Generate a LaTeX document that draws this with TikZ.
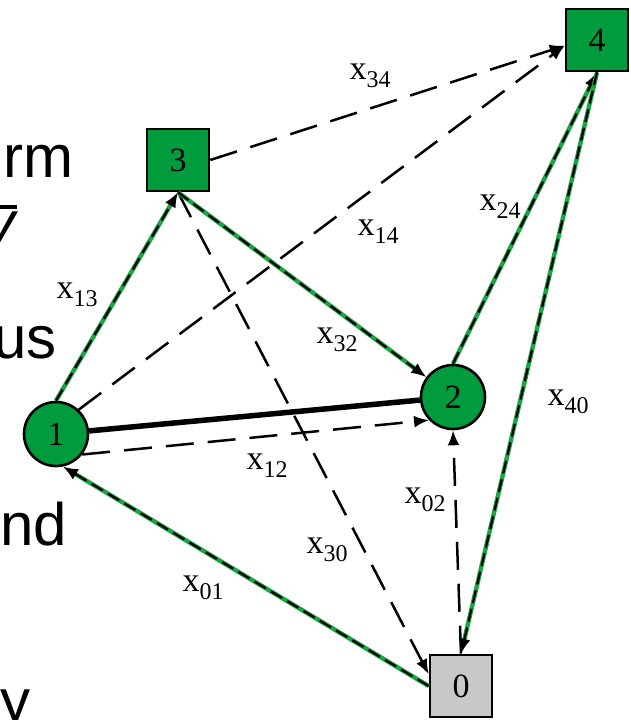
\documentclass[tikz,border=0pt]{standalone}
\usepackage{fontspec}
\setmainfont{Liberation Serif}
\newfontfamily\sansf{Liberation Sans}
\usetikzlibrary{arrows.meta}
\definecolor{ngreen}{RGB}{0,155,60}
\definecolor{egreen}{RGB}{25,165,65}
\definecolor{ngrey}{RGB}{200,200,200}
\newcommand{\elab}[1]{{\fontsize{34}{34}\selectfont x\raisebox{-8pt}{\fontsize{24}{24}\selectfont #1}}}
\begin{document}
\begin{tikzpicture}[x=1pt,y=-1pt,
  sq/.style={draw=black, line width=2.6pt, minimum size=62pt, inner sep=0pt, font=\fontsize{34}{34}\selectfont},
  ci/.style={circle, draw=black, line width=2.6pt, minimum size=64pt, inner sep=0pt, fill=ngreen, font=\fontsize{34}{34}\selectfont},
  tip/.style={-{Latex[length=15pt,width=12pt]}},
  dedge/.style={draw=black, line width=2.5pt, dash pattern=on 28pt off 14pt, tip},
  gedge/.style={draw=black, line width=2.2pt, dash pattern=on 13pt off 6pt, tip,
    preaction={draw=egreen, line width=4.4pt, solid, -, shorten >=11pt}},
  thickedge/.style={draw=black, line width=5.5pt},
  elabel/.style={inner sep=0pt, anchor=center},
  txt/.style={inner sep=0pt, font=\sansf\fontsize{60}{60}\selectfont}
]
\useasboundingbox (0,0) rectangle (631,720);
\clip (0,0) rectangle (631,720);

% text fragments at left edge
\node[txt, anchor=base east] (t1) at (74,177) {rm};
\node[txt, anchor=base east] (t2) at (16,243) {\itshape y};
\draw[line width=4pt] (-20,207) -- (17,207);
\node[txt, anchor=base east] (t3) at (57,358) {us};
\node[txt, anchor=base east] (t4) at (67,545) {nd};
\node[txt, anchor=base west] (t5) at (0,721) {y};

% nodes
\node[sq, fill=ngreen] (n3) at (178,160) {3};
\node[sq, fill=ngreen] (n4) at (597,40) {4};
\node[sq, fill=ngrey] (n0) at (461,686) {0};
\node[ci] (n1) at (56,434) {1};
\node[ci] (n2) at (453,397) {2};

% edges
\draw[thickedge] (n1) -- (n2);
\draw[dedge] (n1.-38) -- (n2.224);
\draw[dedge] (n1.47) -- (n4.-170);
\draw[dedge] (n3.east) -- (n4.-170);
\draw[dedge] (n3.south) -- (n0.160);
\draw[dedge] (n0.north) -- (n2.south);
\draw[gedge] (n0.west) -- (n1.-78);
\draw[gedge] (n1.north) -- (n3.south);
\draw[gedge] (n3.south) -- (n2);
\draw[gedge] (n2.north) -- (n4.south);
\draw[gedge] (n4.south) -- (n0.north);

% edge labels
\node[elabel] (l34) at (370,76) {\elab{34}};
\node[elabel] (l14) at (378,232) {\elab{14}};
\node[elabel] (l24) at (500,207) {\elab{24}};
\node[elabel] (l13) at (77,295) {\elab{13}};
\node[elabel] (l32) at (337,340) {\elab{32}};
\node[elabel] (l12) at (267,466) {\elab{12}};
\node[elabel] (l30) at (327,550) {\elab{30}};
\node[elabel] (l02) at (425,500) {\elab{02}};
\node[elabel] (l01) at (203,588) {\elab{01}};
\node[elabel] (l40) at (568,402) {\elab{40}};
\end{tikzpicture}
\end{document}
